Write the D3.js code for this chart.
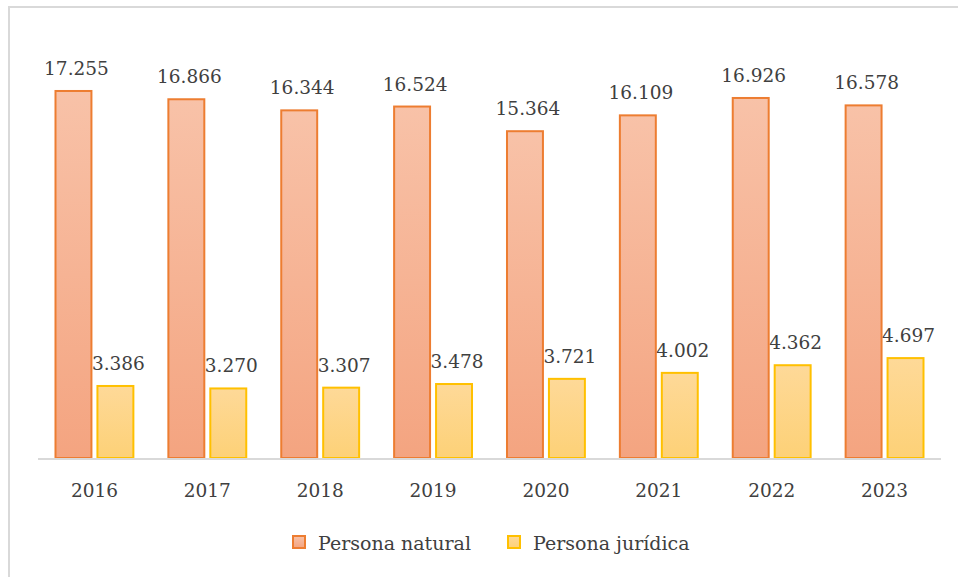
<!DOCTYPE html>
<html>
<head>
<meta charset="utf-8">
<script src="https://cdn.jsdelivr.net/npm/d3@7"></script>
<style>
  html, body { margin: 0; padding: 0; background: #fff; }
  svg { display: block; }
  text { font-family: "DejaVu Serif", serif; fill: #404040; }
</style>
</head>
<body>
<svg id="chart" width="958" height="577"></svg>
<script>
const years = ["2016", "2017", "2018", "2019", "2020", "2021", "2022", "2023"];
const personaNatural = [17.255, 16.866, 16.344, 16.524, 15.364, 16.109, 16.926, 16.578];
const personaJuridica = [3.386, 3.270, 3.307, 3.478, 3.721, 4.002, 4.362, 4.697];
const seriesNames = ["Persona natural", "Persona jurídica"];

const fmt = v => v.toFixed(3);

const svg = d3.select("#chart");
const W = 958, H = 577;

// frame (top and left edges visible)
svg.append("path")
  .attr("d", `M9,${H + 10} L9,7 L${W + 10},7`)
  .attr("fill", "none").attr("stroke", "#d9d9d9").attr("stroke-width", 2);

const x0 = d3.scaleBand().domain(years).range([38, 941]).paddingInner(0.31).paddingOuter(0.155);
const x1 = d3.scaleBand().domain(seriesNames).range([0, x0.bandwidth()]).paddingInner(0.143);
const y = d3.scaleLinear().domain([0, 20]).range([458, 32.6]);

const defs = svg.append("defs");
const grads = [
  { id: "gNat", top: "#f8c2a8", bottom: "#f4a480", stroke: "#ed7d31" },
  { id: "gJur", top: "#fed998", bottom: "#fdd177", stroke: "#ffc000" }
];
grads.forEach(g => {
  const lg = defs.append("linearGradient").attr("id", g.id)
    .attr("x1", 0).attr("y1", 0).attr("x2", 0).attr("y2", 1);
  lg.append("stop").attr("offset", "0%").attr("stop-color", g.top);
  lg.append("stop").attr("offset", "100%").attr("stop-color", g.bottom);
});

const series = [personaNatural, personaJuridica];

series.forEach((vals, si) => {
  const g = svg.append("g");
  g.selectAll("rect").data(vals).join("rect")
    .attr("x", (d, i) => x0(years[i]) + x1(seriesNames[si]))
    .attr("y", d => y(d))
    .attr("width", x1.bandwidth())
    .attr("height", d => y(0) - y(d))
    .attr("fill", `url(#${grads[si].id})`)
    .attr("stroke", grads[si].stroke)
    .attr("stroke-width", 2);
  g.selectAll("text").data(vals).join("text")
    .attr("x", (d, i) => x0(years[i]) + x1(seriesNames[si]) + x1.bandwidth() / 2 + 3)
    .attr("y", d => y(d) - 16)
    .attr("text-anchor", "middle")
    .attr("font-size", 18.5)
    .text(d => fmt(d));
});

// x axis
const xAxis = d3.axisBottom(x0).tickSize(0).tickPadding(0);
const ax = svg.append("g").attr("transform", `translate(0,${y(0)})`).call(xAxis);
ax.select(".domain").attr("stroke", "#d9d9d9").attr("stroke-width", 2).attr("d", "M38,1H941");
ax.selectAll(".tick text")
  .attr("dy", 0).attr("y", 39)
  .attr("font-size", 18.5)
  .attr("font-family", "DejaVu Serif, serif")
  .attr("fill", "#404040");

// legend
const legendItems = [
  { name: seriesNames[0], x: 292, fill: "url(#gNat)", stroke: "#ed7d31" },
  { name: seriesNames[1], x: 507, fill: "url(#gJur)", stroke: "#ffc000" }
];
const lg = svg.append("g");
legendItems.forEach(it => {
  lg.append("rect").attr("x", it.x + 1).attr("y", 536).attr("width", 12).attr("height", 12)
    .attr("fill", it.fill).attr("stroke", it.stroke).attr("stroke-width", 2);
  lg.append("text").attr("x", it.x + 26).attr("y", 550).attr("font-size", 19).text(it.name);
});
</script>
</body>
</html>
